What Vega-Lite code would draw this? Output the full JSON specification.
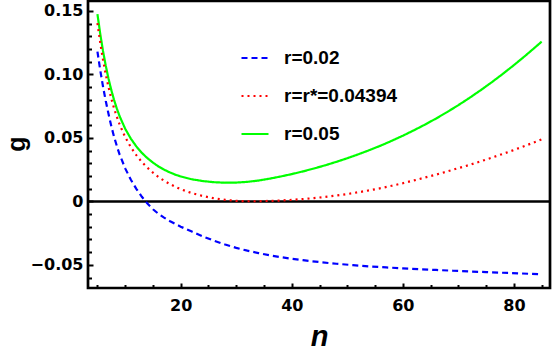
{
  "$schema": "https://vega.github.io/schema/vega-lite/v6.json",
  "width": 462,
  "height": 287,
  "autosize": {"type": "none"},
  "padding": {"left": 88, "top": 1, "right": 4, "bottom": 63},
  "background": "white",
  "config": {
    "view": {"stroke": "black", "strokeWidth": 2.7},
    "axis": {"grid": false, "domain": false, "tickColor": "black", "tickWidth": 2, "labelColor": "black", "titleColor": "black", "labelFont": "DejaVu Sans", "labelFontWeight": "bold", "labelFontSize": 16, "titleFont": "Liberation Sans", "titleFontWeight": "bold"}
  },
  "data": {"values": [
    {"r": "r=0.05", "n": 5, "g": 0.1475}, {"r": "r=0.05", "n": 5.5, "g": 0.1320}, {"r": "r=0.05", "n": 6, "g": 0.1185}, {"r": "r=0.05", "n": 6.5, "g": 0.1068}, {"r": "r=0.05", "n": 7, "g": 0.0965}, {"r": "r=0.05", "n": 7.5, "g": 0.0876}, {"r": "r=0.05", "n": 8, "g": 0.0798}, {"r": "r=0.05", "n": 8.5, "g": 0.0730}, {"r": "r=0.05", "n": 9, "g": 0.0670}, {"r": "r=0.05", "n": 10, "g": 0.0572}, {"r": "r=0.05", "n": 11, "g": 0.0495}, {"r": "r=0.05", "n": 12, "g": 0.0433}, {"r": "r=0.05", "n": 13, "g": 0.0382}, {"r": "r=0.05", "n": 14, "g": 0.0340}, {"r": "r=0.05", "n": 15, "g": 0.0305}, {"r": "r=0.05", "n": 16, "g": 0.0275}, {"r": "r=0.05", "n": 17, "g": 0.0250}, {"r": "r=0.05", "n": 18, "g": 0.0229}, {"r": "r=0.05", "n": 19, "g": 0.0211}, {"r": "r=0.05", "n": 20, "g": 0.0196}, {"r": "r=0.05", "n": 22, "g": 0.0174}, {"r": "r=0.05", "n": 24, "g": 0.0160}, {"r": "r=0.05", "n": 26, "g": 0.0151}, {"r": "r=0.05", "n": 28, "g": 0.0147}, {"r": "r=0.05", "n": 30, "g": 0.0148}, {"r": "r=0.05", "n": 32, "g": 0.0154}, {"r": "r=0.05", "n": 34, "g": 0.0164}, {"r": "r=0.05", "n": 36, "g": 0.0179}, {"r": "r=0.05", "n": 38, "g": 0.0196}, {"r": "r=0.05", "n": 40, "g": 0.0215}, {"r": "r=0.05", "n": 42, "g": 0.0236}, {"r": "r=0.05", "n": 44, "g": 0.0259}, {"r": "r=0.05", "n": 46, "g": 0.0284}, {"r": "r=0.05", "n": 48, "g": 0.0311}, {"r": "r=0.05", "n": 50, "g": 0.0340}, {"r": "r=0.05", "n": 52, "g": 0.0371}, {"r": "r=0.05", "n": 54, "g": 0.0404}, {"r": "r=0.05", "n": 56, "g": 0.0439}, {"r": "r=0.05", "n": 58, "g": 0.0477}, {"r": "r=0.05", "n": 60, "g": 0.0517}, {"r": "r=0.05", "n": 62, "g": 0.0560}, {"r": "r=0.05", "n": 64, "g": 0.0605}, {"r": "r=0.05", "n": 66, "g": 0.0653}, {"r": "r=0.05", "n": 68, "g": 0.0704}, {"r": "r=0.05", "n": 70, "g": 0.0758}, {"r": "r=0.05", "n": 72, "g": 0.0815}, {"r": "r=0.05", "n": 74, "g": 0.0875}, {"r": "r=0.05", "n": 76, "g": 0.0938}, {"r": "r=0.05", "n": 78, "g": 0.1004}, {"r": "r=0.05", "n": 80, "g": 0.1073}, {"r": "r=0.05", "n": 82, "g": 0.1145}, {"r": "r=0.05", "n": 84, "g": 0.1220}, {"r": "r=0.05", "n": 85, "g": 0.1258},
    {"r": "r=r*=0.04394", "n": 5, "g": 0.1404}, {"r": "r=r*=0.04394", "n": 5.5, "g": 0.1250}, {"r": "r=r*=0.04394", "n": 6, "g": 0.1116}, {"r": "r=r*=0.04394", "n": 6.5, "g": 0.1000}, {"r": "r=r*=0.04394", "n": 7, "g": 0.0898}, {"r": "r=r*=0.04394", "n": 7.5, "g": 0.0810}, {"r": "r=r*=0.04394", "n": 8, "g": 0.0732}, {"r": "r=r*=0.04394", "n": 8.5, "g": 0.0665}, {"r": "r=r*=0.04394", "n": 9, "g": 0.0605}, {"r": "r=r*=0.04394", "n": 10, "g": 0.0506}, {"r": "r=r*=0.04394", "n": 11, "g": 0.0428}, {"r": "r=r*=0.04394", "n": 12, "g": 0.0364}, {"r": "r=r*=0.04394", "n": 13, "g": 0.0310}, {"r": "r=r*=0.04394", "n": 14, "g": 0.0265}, {"r": "r=r*=0.04394", "n": 15, "g": 0.0226}, {"r": "r=r*=0.04394", "n": 16, "g": 0.0192}, {"r": "r=r*=0.04394", "n": 17, "g": 0.0163}, {"r": "r=r*=0.04394", "n": 18, "g": 0.0138}, {"r": "r=r*=0.04394", "n": 19, "g": 0.0116}, {"r": "r=r*=0.04394", "n": 20, "g": 0.0096}, {"r": "r=r*=0.04394", "n": 22, "g": 0.0065}, {"r": "r=r*=0.04394", "n": 24, "g": 0.0042}, {"r": "r=r*=0.04394", "n": 26, "g": 0.0024}, {"r": "r=r*=0.04394", "n": 28, "g": 0.0012}, {"r": "r=r*=0.04394", "n": 30, "g": 0.0004}, {"r": "r=r*=0.04394", "n": 32, "g": 0.0001}, {"r": "r=r*=0.04394", "n": 34, "g": 0.0001}, {"r": "r=r*=0.04394", "n": 36, "g": 0.0004}, {"r": "r=r*=0.04394", "n": 38, "g": 0.0007}, {"r": "r=r*=0.04394", "n": 40, "g": 0.0012}, {"r": "r=r*=0.04394", "n": 42, "g": 0.0018}, {"r": "r=r*=0.04394", "n": 44, "g": 0.0026}, {"r": "r=r*=0.04394", "n": 46, "g": 0.0035}, {"r": "r=r*=0.04394", "n": 48, "g": 0.0046}, {"r": "r=r*=0.04394", "n": 50, "g": 0.0058}, {"r": "r=r*=0.04394", "n": 52, "g": 0.0072}, {"r": "r=r*=0.04394", "n": 54, "g": 0.0087}, {"r": "r=r*=0.04394", "n": 56, "g": 0.0104}, {"r": "r=r*=0.04394", "n": 58, "g": 0.0123}, {"r": "r=r*=0.04394", "n": 60, "g": 0.0143}, {"r": "r=r*=0.04394", "n": 62, "g": 0.0165}, {"r": "r=r*=0.04394", "n": 64, "g": 0.0188}, {"r": "r=r*=0.04394", "n": 66, "g": 0.0211}, {"r": "r=r*=0.04394", "n": 68, "g": 0.0236}, {"r": "r=r*=0.04394", "n": 70, "g": 0.0262}, {"r": "r=r*=0.04394", "n": 72, "g": 0.0287}, {"r": "r=r*=0.04394", "n": 74, "g": 0.0315}, {"r": "r=r*=0.04394", "n": 76, "g": 0.0344}, {"r": "r=r*=0.04394", "n": 78, "g": 0.0374}, {"r": "r=r*=0.04394", "n": 80, "g": 0.0405}, {"r": "r=r*=0.04394", "n": 82, "g": 0.0437}, {"r": "r=r*=0.04394", "n": 84, "g": 0.0471}, {"r": "r=r*=0.04394", "n": 85, "g": 0.0488},
    {"r": "r=0.02", "n": 5, "g": 0.1180}, {"r": "r=0.02", "n": 5.5, "g": 0.1035}, {"r": "r=0.02", "n": 6, "g": 0.0905}, {"r": "r=0.02", "n": 6.5, "g": 0.0790}, {"r": "r=0.02", "n": 7, "g": 0.0688}, {"r": "r=0.02", "n": 7.5, "g": 0.0592}, {"r": "r=0.02", "n": 8, "g": 0.0508}, {"r": "r=0.02", "n": 8.5, "g": 0.0435}, {"r": "r=0.02", "n": 9, "g": 0.0368}, {"r": "r=0.02", "n": 10, "g": 0.0260}, {"r": "r=0.02", "n": 11, "g": 0.0172}, {"r": "r=0.02", "n": 12, "g": 0.0099}, {"r": "r=0.02", "n": 13, "g": 0.0036}, {"r": "r=0.02", "n": 14, "g": -0.0017}, {"r": "r=0.02", "n": 15, "g": -0.0062}, {"r": "r=0.02", "n": 16, "g": -0.0098}, {"r": "r=0.02", "n": 17, "g": -0.0128}, {"r": "r=0.02", "n": 18, "g": -0.0154}, {"r": "r=0.02", "n": 20, "g": -0.0199}, {"r": "r=0.02", "n": 22, "g": -0.0238}, {"r": "r=0.02", "n": 24, "g": -0.0276}, {"r": "r=0.02", "n": 26, "g": -0.0310}, {"r": "r=0.02", "n": 28, "g": -0.0340}, {"r": "r=0.02", "n": 30, "g": -0.0366}, {"r": "r=0.02", "n": 32, "g": -0.0388}, {"r": "r=0.02", "n": 34, "g": -0.0407}, {"r": "r=0.02", "n": 36, "g": -0.0424}, {"r": "r=0.02", "n": 38, "g": -0.0439}, {"r": "r=0.02", "n": 40, "g": -0.0452}, {"r": "r=0.02", "n": 42, "g": -0.0463}, {"r": "r=0.02", "n": 45, "g": -0.0478}, {"r": "r=0.02", "n": 48, "g": -0.0491}, {"r": "r=0.02", "n": 51, "g": -0.0502}, {"r": "r=0.02", "n": 54, "g": -0.0512}, {"r": "r=0.02", "n": 57, "g": -0.0520}, {"r": "r=0.02", "n": 60, "g": -0.0527}, {"r": "r=0.02", "n": 63, "g": -0.0534}, {"r": "r=0.02", "n": 66, "g": -0.0540}, {"r": "r=0.02", "n": 69, "g": -0.0546}, {"r": "r=0.02", "n": 72, "g": -0.0552}, {"r": "r=0.02", "n": 75, "g": -0.0557}, {"r": "r=0.02", "n": 78, "g": -0.0562}, {"r": "r=0.02", "n": 81, "g": -0.0567}, {"r": "r=0.02", "n": 85, "g": -0.0574}
  ]},
  "layer": [
    {
      "data": {"values": [{"z": 0}]},
      "mark": {"type": "rule", "color": "black", "strokeWidth": 2.5},
      "encoding": {
        "y": {"field": "z", "type": "quantitative", "axis": null, "scale": {"domain": [-0.0682, 0.1578], "nice": false, "zero": false}}
      }
    },
    {
      "mark": {"type": "line", "strokeOpacity": 0},
      "encoding": {
        "detail": {"field": "r"},
        "x": {"field": "n", "type": "quantitative", "scale": {"domain": [3.3, 86.5], "nice": false, "zero": false},
          "axis": {"orient": "bottom", "values": [5, 10, 15, 25, 30, 35, 45, 50, 55, 65, 70, 75, 85], "labels": false, "offset": -3.5, "tickSize": 3.5, "title": null}},
        "y": {"field": "g", "type": "quantitative", "scale": {"domain": [-0.0682, 0.1578], "nice": false, "zero": false},
          "axis": {"orient": "left", "values": [-0.06, -0.04, -0.03, -0.02, -0.01, 0.01, 0.02, 0.03, 0.04, 0.06, 0.07, 0.08, 0.09, 0.11, 0.12, 0.13, 0.14], "labels": false, "offset": -3.5, "tickSize": 3.5, "title": null}}
      }
    },
    {
      "mark": {"type": "line", "strokeWidth": 2.2},
      "encoding": {
        "x": {"field": "n", "type": "quantitative", "scale": {"domain": [3.3, 86.5], "nice": false, "zero": false},
          "axis": {"orient": "bottom", "values": [20, 40, 60, 80], "offset": -5, "tickSize": 5, "labelPadding": 9, "title": "n", "titleFontStyle": "italic", "titleFontSize": 29, "titleBaseline": "alphabetic", "titleY": 62}},
        "y": {"field": "g", "type": "quantitative", "scale": {"domain": [-0.0682, 0.1578], "nice": false, "zero": false},
          "axis": {"orient": "left", "values": [-0.05, 0, 0.05, 0.1, 0.15], "offset": -5, "tickSize": 5, "labelPadding": 5, "labelExpr": "datum.value == 0 ? '0' : format(datum.value, '.2f')", "title": "g", "titleFontSize": 25, "titleAngle": -90, "titleBaseline": "alphabetic", "titleAlign": "center", "titleX": -69, "titleY": 142.5}},
        "color": {"field": "r", "type": "nominal",
          "scale": {"domain": ["r=0.02", "r=r*=0.04394", "r=0.05"], "range": ["#0000ff", "#ff0000", "#00ff00"]},
          "legend": {"orient": "none", "legendX": 152, "legendY": 42, "title": null, "symbolType": "stroke", "symbolSize": 729, "symbolStrokeWidth": 2.2, "labelFont": "Liberation Sans", "labelFontWeight": "bold", "labelFontSize": 19, "labelColor": "black", "labelOffset": 14, "rowPadding": 13, "labelLimit": 300}},
        "strokeDash": {"field": "r", "type": "nominal",
          "scale": {"domain": ["r=0.02", "r=r*=0.04394", "r=0.05"], "range": [[6, 4], [2, 4], [1, 0]]},
          "legend": {"orient": "none", "legendX": 152, "legendY": 42, "title": null, "symbolType": "stroke", "symbolSize": 729, "symbolStrokeWidth": 2.2, "labelFont": "Liberation Sans", "labelFontWeight": "bold", "labelFontSize": 19, "labelColor": "black", "labelOffset": 14, "rowPadding": 13, "labelLimit": 300}}
      }
    }
  ],
  "resolve": {"axis": {"x": "independent", "y": "independent"}}
}
